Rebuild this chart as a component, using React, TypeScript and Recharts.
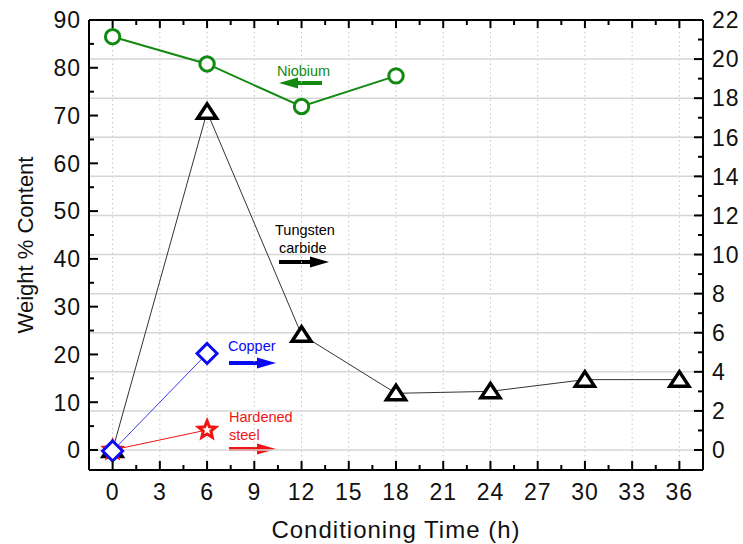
import React from 'react';
import { ComposedChart, Line, XAxis, YAxis, ReferenceLine, Customized } from 'recharts';

// conditioning time (h)
const hoursAll = [0, 6, 12, 18, 24, 30, 36];
const hoursNiobium = [0, 6, 12, 18];
const hoursShort = [0, 6];

// weight % (left axis)
const niobium = [86.5, 80.8, 71.9, 78.3];
const copper = [-0.2, 20.2];
const hardenedSteel = [0, 4.2];
// weight % (right axis)
const tungstenCarbide = [0, 17.3, 5.9, 2.9, 3.0, 3.6, 3.6];

const xTicks = [0, 1.5, 3, 4.5, 6, 7.5, 9, 10.5, 12, 13.5, 15, 16.5, 18, 19.5, 21, 22.5, 24, 25.5, 27, 28.5, 30, 31.5, 33, 34.5, 36];
const xGrid = [0, 3, 6, 9, 12, 15, 18, 21, 24, 27, 30, 33, 36];
const leftTicks = [0, 5, 10, 15, 20, 25, 30, 35, 40, 45, 50, 55, 60, 65, 70, 75, 80, 85, 90];
const rightTicks = [0, 1, 2, 3, 4, 5, 6, 7, 8, 9, 10, 11, 12, 13, 14, 15, 16, 17, 18, 19, 20, 21, 22];
const rightGrid = [0, 2, 4, 6, 8, 10, 12, 14, 16, 18, 20];

const toRows = (xs: number[], ys: number[]) => xs.map((x, i) => ({ x, y: ys[i] }));
const niobiumData = toRows(hoursNiobium, niobium);
const copperData = toRows(hoursShort, copper);
const steelData = toRows(hoursShort, hardenedSteel);
const tungstenData = toRows(hoursAll, tungstenCarbide);

const W = 743;
const H = 544;
const L = 89;
const R = 703;
const T = 20;
const B = 470;
const FONT = "Arial, 'Liberation Sans', sans-serif";

const GREEN = '#128a12';
const BLUE = '#0a0af5';
const RED = '#f01414';

const LeftTick = (p: any) => {
  const v = p.payload.value;
  const major = v % 10 === 0;
  return (
    <g>
      <line x1={L} x2={L + (major ? 9 : 5)} y1={p.y} y2={p.y} stroke="#000" strokeWidth={2} />
      {major && (
        <text x={L - 8} y={p.y} dy="0.36em" textAnchor="end" fontSize={23} letterSpacing={1} fill="#111" fontFamily={FONT}>{v}</text>
      )}
    </g>
  );
};

const RightTick = (p: any) => {
  const v = p.payload.value;
  const major = v % 2 === 0;
  return (
    <g>
      <line x1={R} x2={R - (major ? 9 : 5)} y1={p.y} y2={p.y} stroke="#000" strokeWidth={2} />
      {major && (
        <text x={R + 9} y={p.y} dy="0.36em" textAnchor="start" fontSize={23} letterSpacing={1} fill="#111" fontFamily={FONT}>{v}</text>
      )}
    </g>
  );
};

const BottomTick = (p: any) => {
  const v = p.payload.value;
  const major = v % 3 === 0;
  return (
    <g>
      <line x1={p.x} x2={p.x} y1={B} y2={B - (major ? 9 : 5)} stroke="#000" strokeWidth={2} />
      {major && (
        <text x={p.x} y={B + 22} dy="0.36em" textAnchor="middle" fontSize={23} letterSpacing={1} fill="#111" fontFamily={FONT}>{v}</text>
      )}
    </g>
  );
};

const TopTick = (p: any) => {
  const major = p.payload.value % 3 === 0;
  return <line x1={p.x} x2={p.x} y1={T} y2={T + (major ? 8 : 5)} stroke="#000" strokeWidth={2} />;
};

const CircleDot = (p: any) => (
  <circle key={`c-${p.index}`} cx={p.cx} cy={p.cy} r={7.2} fill="#fff" stroke={GREEN} strokeWidth={3} />
);

const TriangleDot = (p: any) => (
  <path
    key={`t-${p.index}`}
    d={`M${p.cx},${p.cy - 8} L${p.cx + 9.5},${p.cy + 6.5} L${p.cx - 9.5},${p.cy + 6.5} Z`}
    fill="#fff"
    stroke="#000"
    strokeWidth={3.5}
  />
);

const DiamondDot = (p: any) => (
  <path
    key={`d-${p.index}`}
    d={`M${p.cx},${p.cy - 10} L${p.cx + 10},${p.cy} L${p.cx},${p.cy + 10} L${p.cx - 10},${p.cy} Z`}
    fill="#fff"
    stroke={BLUE}
    strokeWidth={3}
  />
);

const StarDot = (p: any) => {
  const pts: string[] = [];
  for (let i = 0; i < 10; i++) {
    const r = i % 2 === 0 ? 9 : 4;
    const a = -Math.PI / 2 + (i * Math.PI) / 5;
    pts.push(`${p.cx + r * Math.cos(a)},${p.cy + r * Math.sin(a)}`);
  }
  return <polygon key={`s-${p.index}`} points={pts.join(' ')} fill="#fff" stroke={RED} strokeWidth={3} strokeLinejoin="miter" />;
};

const Arrow = ({ x1, x2, y, color }: { x1: number; x2: number; y: number; color: string }) => {
  const dir = x2 > x1 ? 1 : -1;
  const head = 19;
  const base = x2 - dir * head;
  return (
    <g>
      <line x1={x1} x2={base + dir * 2} y1={y} y2={y} stroke={color} strokeWidth={4} />
      <polygon points={`${x2},${y} ${base},${y - 5.5} ${base},${y + 5.5}`} fill={color} />
    </g>
  );
};

const Annotations = () => (
  <g fontFamily={FONT}>
    <text x={277} y={76} fontSize={14.5} fill={GREEN}>Niobium</text>
    <Arrow x1={322} x2={279} y={83} color={GREEN} />

    <text x={275} y={235} fontSize={14.5} fill="#000">Tungsten</text>
    <text x={279} y={253} fontSize={14.5} fill="#000">carbide</text>
    <Arrow x1={279} x2={329} y={262} color="#000" />

    <text x={228} y={351} fontSize={14.5} fill={BLUE}>Copper</text>
    <Arrow x1={229} x2={276} y={363} color={BLUE} />

    <text x={229} y={422} fontSize={14.5} fill={RED}>Hardened</text>
    <text x={229} y={440} fontSize={14.5} fill={RED}>steel</text>
    <Arrow x1={229} x2={276} y={449} color={RED} />

    <text x={(L + R) / 2} y={538} textAnchor="middle" fontSize={24} letterSpacing={1} fill="#111">Conditioning Time (h)</text>
    <text x={33} y={(T + B) / 2} textAnchor="middle" fontSize={22} fill="#111" transform={`rotate(-90 33 ${(T + B) / 2})`}>Weight % Content</text>
  </g>
);

export default function App() {
  return (
    <div style={{ position: 'absolute', left: 0, top: 0, background: '#fff' }}>
      <ComposedChart width={W} height={H} margin={{ top: 0, right: 0, bottom: 0, left: 0 }}>
        <XAxis
          xAxisId="b"
          dataKey="x"
          type="number"
          domain={[-1.5, 37.5]}
          allowDataOverflow
          ticks={xTicks}
          interval={0}
          height={H - B}
          tickLine={false}
          axisLine={{ stroke: '#000', strokeWidth: 2 }}
          tick={<BottomTick />}
        />
        <XAxis
          xAxisId="t"
          orientation="top"
          dataKey="x"
          type="number"
          domain={[-1.5, 37.5]}
          allowDataOverflow
          ticks={xTicks}
          interval={0}
          height={T}
          tickLine={false}
          axisLine={{ stroke: '#000', strokeWidth: 2 }}
          tick={<TopTick />}
        />
        <YAxis
          yAxisId="l"
          type="number"
          domain={[-4.186, 90]}
          allowDataOverflow
          ticks={leftTicks}
          interval={0}
          width={L}
          tickLine={false}
          axisLine={{ stroke: '#000', strokeWidth: 2 }}
          tick={<LeftTick />}
        />
        <YAxis
          yAxisId="r"
          orientation="right"
          type="number"
          domain={[-1.0233, 22]}
          allowDataOverflow
          ticks={rightTicks}
          interval={0}
          width={W - R}
          tickLine={false}
          axisLine={{ stroke: '#000', strokeWidth: 2 }}
          tick={<RightTick />}
        />

        {xGrid.map(v => (
          <ReferenceLine key={`vx-${v}`} xAxisId="b" yAxisId="l" x={v} stroke="#c4c4c4" strokeWidth={1} strokeDasharray="1.5 3" />
        ))}
        {rightGrid.map(v => (
          <ReferenceLine key={`hy-${v}`} xAxisId="b" yAxisId="r" y={v} stroke="#d6d6d6" strokeWidth={1.5} />
        ))}

        <Line
          xAxisId="b"
          yAxisId="l"
          data={niobiumData}
          dataKey="y"
          stroke={GREEN}
          strokeWidth={2}
          dot={CircleDot}
          activeDot={false}
          isAnimationActive={false}
        />
        <Line
          xAxisId="b"
          yAxisId="r"
          data={tungstenData}
          dataKey="y"
          stroke="#333"
          strokeWidth={1}
          dot={TriangleDot}
          activeDot={false}
          isAnimationActive={false}
        />
        <Line
          xAxisId="b"
          yAxisId="l"
          data={steelData}
          dataKey="y"
          stroke={RED}
          strokeWidth={1}
          dot={StarDot}
          activeDot={false}
          isAnimationActive={false}
        />
        <Line
          xAxisId="b"
          yAxisId="l"
          data={copperData}
          dataKey="y"
          stroke="#3a3af0"
          strokeWidth={1}
          dot={DiamondDot}
          activeDot={false}
          isAnimationActive={false}
        />
        <Customized component={Annotations} />
      </ComposedChart>
    </div>
  );
}
